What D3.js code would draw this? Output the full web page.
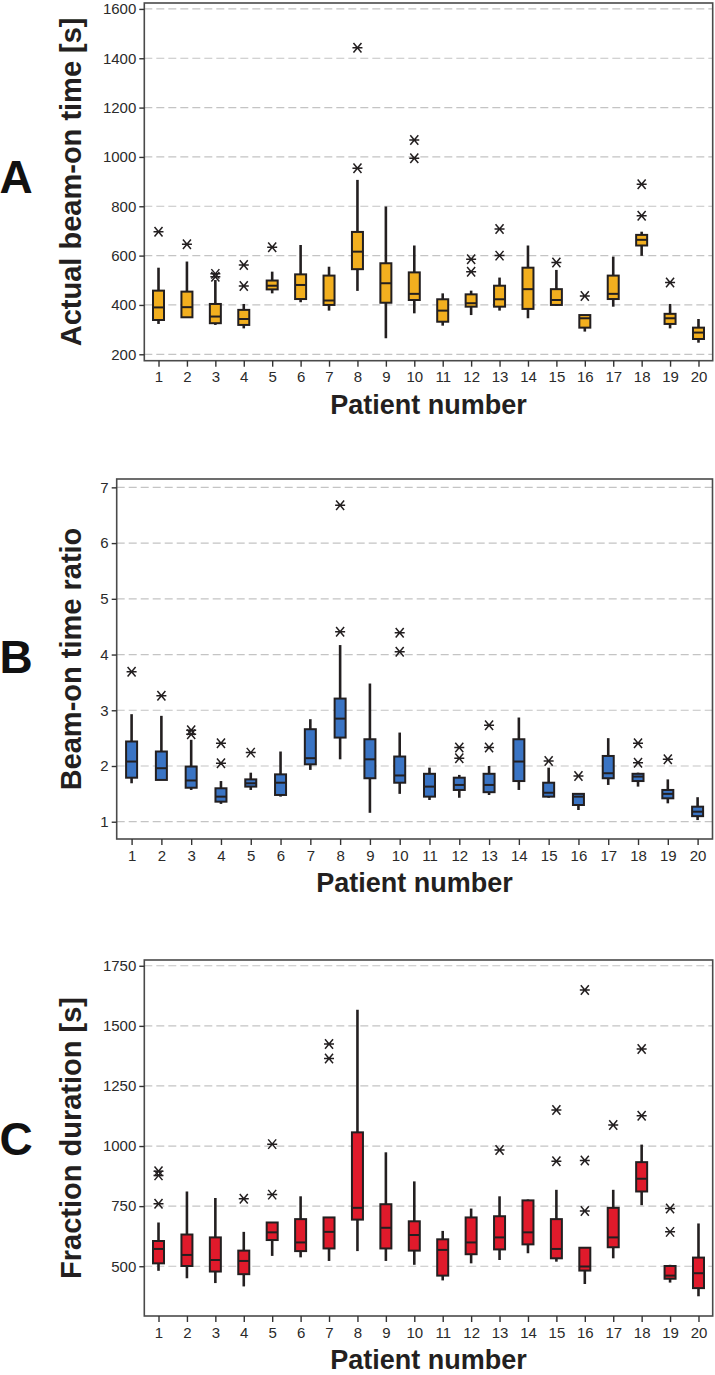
<!DOCTYPE html>
<html>
<head>
<meta charset="utf-8">
<script src="https://cdn.jsdelivr.net/npm/d3@7"></script>
<style>
  body { margin: 0; background: #fff; }
  svg { display: block; font-family: "Liberation Sans", Arial, sans-serif; }
</style>
</head>
<body>
<div id="chart"></div>
<script>
// patients on the x axis
const patients = [1,2,3,4,5,6,7,8,9,10,11,12,13,14,15,16,17,18,19,20];

// A - actual beam-on time [s]: whisker low, Q1, median, Q3, whisker high, outliers
const aLow  = [323,348,319,305,447,411,377,457,265,366,316,359,377,346,397,292,393,599,305,247];
const aQ1   = [339,350,326,319,463,424,400,545,409,420,332,393,393,384,400,308,424,641,323,262];
const aMed  = [390,391,353,343,478,481,418,616,488,445,377,407,423,464,420,346,445,664,346,288];
const aQ3   = [458,454,404,380,499,524,519,696,569,532,423,443,478,551,464,359,519,684,364,308];
const aHigh = [551,576,501,404,535,643,555,907,799,641,447,458,511,641,542,359,596,697,404,343];
const aOut  = [[697],[646],[526,514],[562,477],[634],[],[],[954,1443],[],[995,1069],
               [],[535,585],[600,708],[],[572],[436],[],[762,889],[491],[]];
const aTicks = [200,400,600,800,1000,1200,1400,1600];

// B - beam-on time ratio
const bLow  = [1.69,1.75,1.57,1.32,1.57,1.45,1.93,2.12,1.16,1.50,1.39,1.43,1.48,1.57,1.43,1.21,1.66,1.63,1.33,1.03];
const bQ1   = [1.79,1.75,1.61,1.36,1.63,1.48,2.03,2.51,1.78,1.70,1.45,1.57,1.53,1.73,1.45,1.30,1.78,1.73,1.42,1.10];
const bMed  = [2.08,1.96,1.74,1.45,1.69,1.70,2.14,2.85,2.12,1.83,1.63,1.66,1.66,2.08,1.52,1.45,1.87,1.81,1.50,1.18];
const bQ3   = [2.44,2.26,1.99,1.60,1.76,1.85,2.66,3.21,2.48,2.17,1.86,1.79,1.86,2.48,1.70,1.50,2.18,1.86,1.57,1.27];
const bHigh = [2.93,2.90,2.47,1.73,1.88,2.26,2.84,4.17,3.48,2.60,1.97,1.84,2.00,2.87,1.97,1.50,2.50,1.88,1.76,1.44];
const bOut  = [[3.69],[3.26],[2.64,2.57],[2.05,2.41],[2.24],[],[],[4.41,6.68],[],[4.05,4.39],
               [],[2.14,2.33],[2.33,2.73],[],[2.09],[1.82],[],[2.06,2.41],[2.12],[]];
const bTicks = [1,2,3,4,5,6,7];

// C - fraction duration [s]
const cLow  = [481,450,430,416,543,537,522,563,522,506,441,512,526,554,519,426,533,754,432,375];
const cQ1   = [512,501,478,467,609,563,574,694,574,565,461,550,570,591,533,482,579,811,448,409];
const cMed  = [572,547,526,522,641,599,643,743,660,630,568,599,620,641,572,499,620,864,461,471];
const cQ3   = [605,632,620,565,682,696,703,1057,758,687,612,703,708,774,696,577,743,933,501,536];
const cHigh = [682,811,784,643,682,791,703,1567,974,853,647,740,791,778,818,577,818,1006,506,678];
const cOut  = [[760,878,895],[],[],[781],[798,1008],[],[1364,1425],[],[],[],
               [],[],[984],[],[937,1150],[730,940,1649],[1088],[1126,1404],[643,740],[]];
const cTicks = [500,750,1000,1250,1500,1750];

const W = 715, H = 1375;
const ink = "#231f20";

const svg = d3.select("#chart").append("svg")
    .attr("width", W)
    .attr("height", H);

// minitab style asterisk: horizontal bar plus two diagonals
const asterisk = {
  draw(context, size) {
    const r = Math.sqrt(size) / 2;
    context.moveTo(-r, 0); context.lineTo(r, 0);
    context.moveTo(-r * 0.8, -r * 0.95); context.lineTo(r * 0.8, r * 0.95);
    context.moveTo(-r * 0.8, r * 0.95); context.lineTo(r * 0.8, -r * 0.95);
  }
};

function drawPanel(p) {
  const x = d3.scalePoint()
      .domain(patients)
      .range([p.left, p.right])
      .padding(0.5);

  const y = d3.scaleLinear()
      .domain(p.domain)
      .range([p.bottom, p.top]);

  const g = svg.append("g");

  // dashed grid lines
  g.append("g").selectAll("line")
    .data(p.ticks)
    .join("line")
      .attr("x1", p.left).attr("x2", p.right)
      .attr("y1", d => y(d)).attr("y2", d => y(d))
      .attr("stroke", "#c4c4c4")
      .attr("stroke-width", 1.2)
      .attr("stroke-dasharray", "8,4");

  const rows = patients.map((d, i) => ({
    id: d, low: p.low[i], q1: p.q1[i], med: p.med[i], q3: p.q3[i], high: p.high[i], out: p.out[i]
  }));

  const bw = 11;
  const box = g.append("g").selectAll("g")
    .data(rows)
    .join("g")
      .attr("transform", d => `translate(${x(d.id)},0)`);

  box.append("line")
      .attr("y1", d => y(d.low)).attr("y2", d => y(d.high))
      .attr("stroke", ink).attr("stroke-width", 2.6);

  box.append("rect")
      .attr("x", -bw / 2)
      .attr("width", bw)
      .attr("y", d => y(d.q3))
      .attr("height", d => Math.max(1, y(d.q1) - y(d.q3)))
      .attr("fill", p.color)
      .attr("stroke", ink)
      .attr("stroke-width", 2);

  box.append("line")
      .attr("x1", -bw / 2).attr("x2", bw / 2)
      .attr("y1", d => y(d.med)).attr("y2", d => y(d.med))
      .attr("stroke", ink).attr("stroke-width", 2);

  box.selectAll("path")
    .data(d => d.out)
    .join("path")
      .attr("transform", v => `translate(0,${y(v)})`)
      .attr("d", d3.symbol(asterisk, 100))
      .attr("fill", "none")
      .attr("stroke", ink)
      .attr("stroke-width", 1.5);

  // frame
  g.append("rect")
      .attr("x", p.left).attr("y", p.top)
      .attr("width", p.right - p.left)
      .attr("height", p.bottom - p.top)
      .attr("fill", "none")
      .attr("stroke", "#4a4a4a")
      .attr("stroke-width", 1.6);

  // axes
  const ya = g.append("g")
      .attr("transform", `translate(${p.left},0)`)
      .call(d3.axisLeft(y).tickValues(p.ticks).tickFormat(d3.format("d")).tickSize(5).tickPadding(3));
  const xa = g.append("g")
      .attr("transform", `translate(0,${p.bottom})`)
      .call(d3.axisBottom(x).tickSize(6).tickPadding(5));
  [ya, xa].forEach(a => {
    a.select(".domain").remove();
    a.selectAll(".tick line").attr("stroke", "#333").attr("stroke-width", 1.4);
    a.selectAll(".tick text")
      .attr("fill", "#2a2a2a")
      .style("font-size", "15px")
      .style("font-family", "'Liberation Sans', Arial, sans-serif");
  });

  // titles
  const cy = (p.top + p.bottom) / 2;
  g.append("text")
      .attr("transform", `translate(81,${cy}) rotate(-90)`)
      .attr("text-anchor", "middle")
      .style("font-size", "29px")
      .style("font-weight", "bold")
      .attr("fill", ink)
      .text(p.yTitle);

  g.append("text")
      .attr("x", (p.left + p.right) / 2)
      .attr("y", p.bottom + 53)
      .attr("text-anchor", "middle")
      .style("font-size", "27px")
      .style("font-weight", "bold")
      .attr("fill", ink)
      .text("Patient number");

  g.append("text")
      .attr("x", 16)
      .attr("y", p.letterY)
      .attr("text-anchor", "middle")
      .style("font-size", "46px")
      .style("font-weight", "bold")
      .attr("fill", "#111")
      .text(p.letter);
}

drawPanel({
  letter: "A", letterY: 193, yTitle: "Actual beam-on time [s]",
  left: 144.3, right: 712.7, top: 3, bottom: 360.7, domain: [174, 1624],
  ticks: aTicks, color: "#f2af1f",
  low: aLow, q1: aQ1, med: aMed, q3: aQ3, high: aHigh, out: aOut
});

drawPanel({
  letter: "B", letterY: 673, yTitle: "Beam-on time ratio",
  left: 116.7, right: 712.5, top: 479, bottom: 839, domain: [0.69, 7.15],
  ticks: bTicks, color: "#3a74c4",
  low: bLow, q1: bQ1, med: bMed, q3: bQ3, high: bHigh, out: bOut
});

drawPanel({
  letter: "C", letterY: 1155, yTitle: "Fraction duration [s]",
  left: 144.3, right: 712.7, top: 960, bottom: 1316, domain: [293, 1774],
  ticks: cTicks, color: "#e01a2b",
  low: cLow, q1: cQ1, med: cMed, q3: cQ3, high: cHigh, out: cOut
});
</script>
</body>
</html>
